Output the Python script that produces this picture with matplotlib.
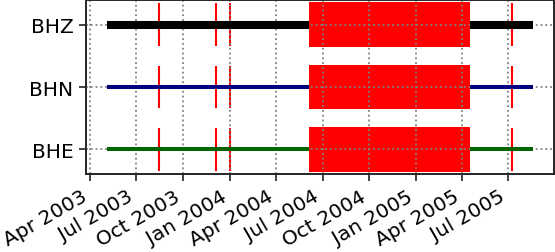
import numpy as np
import pandas as pd
import matplotlib
matplotlib.use("Agg")
import matplotlib.pyplot as plt
import matplotlib.dates as mdates

# channels bottom -> top
channels = ["BHE", "BHN", "BHZ"]
colors = ["darkgreen", "navy", "black"]
widths = [2.9, 2.9, 5.8]

data_start = "2003-05-05"
data_end = "2005-08-18"

# long gap drawn as a box
gap_start = "2004-06-05"
gap_end = "2005-04-16"

# short gaps drawn as thin red marks
short_gaps = ["2003-08-14", "2003-12-04", "2004-01-01", "2005-07-08"]

tick_dates = ["2003-04-01", "2003-07-01", "2003-10-01", "2004-01-01", "2004-04-01",
              "2004-07-01", "2004-10-01", "2005-01-01", "2005-04-01", "2005-07-01"]

fig = plt.figure(figsize=(5.55, 2.53), dpi=100)
ax = fig.add_axes([0.155, 0.308, 0.843, 0.688])

t0 = mdates.date2num(pd.Timestamp(data_start))
t1 = mdates.date2num(pd.Timestamp(data_end))
g0 = mdates.date2num(pd.Timestamp(gap_start))
g1 = mdates.date2num(pd.Timestamp(gap_end))
half = 0.36

for i, ch in enumerate(channels):
    # data segments either side of the big gap
    ax.plot([t0, g0], [i, i], color=colors[i], lw=widths[i], solid_capstyle="butt", zorder=2)
    ax.plot([g1, t1], [i, i], color=colors[i], lw=widths[i], solid_capstyle="butt", zorder=2)
    ax.broken_barh([(g0, g1 - g0)], (i - half, 2 * half), facecolor="red", edgecolor="none", zorder=1)
    for d in short_gaps:
        x = mdates.date2num(pd.Timestamp(d))
        ax.vlines(x, i - 0.345, i + 0.345, color="red", lw=1.5, zorder=1)

span = t1 - t0
ax.set_xlim(t0 - 0.05 * span, t1 + 0.05 * span)
ax.set_ylim(-0.4, 2.4)
ax.set_yticks(range(len(channels)))
ax.set_yticklabels(channels)
ax.set_xticks([mdates.date2num(pd.Timestamp(d)) for d in tick_dates])
ax.xaxis.set_major_formatter(mdates.DateFormatter("%b %Y"))
plt.setp(ax.get_xticklabels(), rotation=30, ha="right")

ax.grid(True, color="gray", linestyle=":", lw=1.3)
ax.tick_params(labelsize=14.5, length=5, width=1.3, color="#333333", pad=4)
for s in ax.spines.values():
    s.set_color("#262626")
    s.set_linewidth(1.4)

fig.savefig("out.png", dpi=100)
